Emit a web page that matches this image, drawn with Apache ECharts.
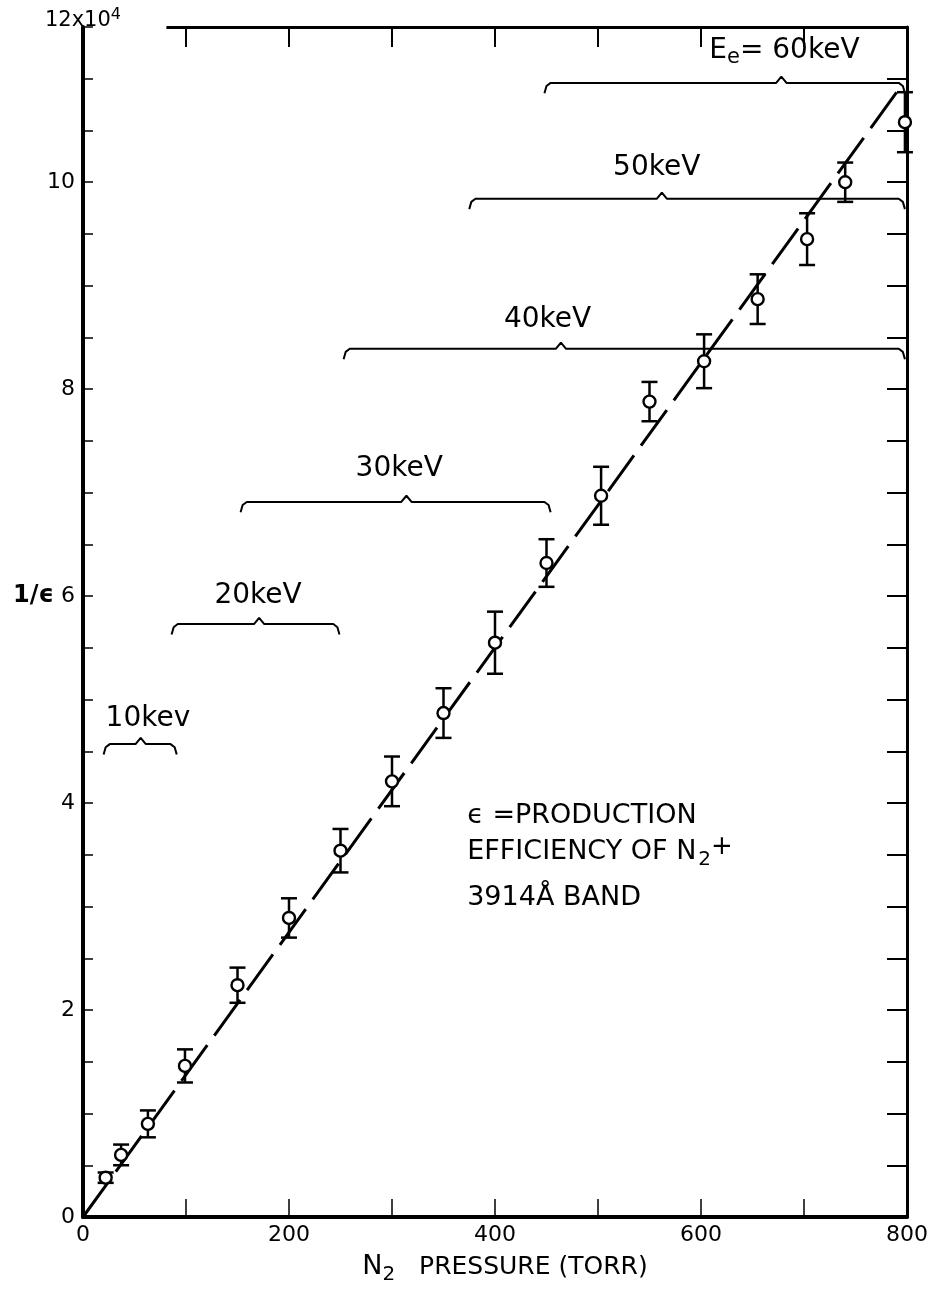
<!DOCTYPE html>
<html>
<head>
<meta charset="utf-8">
<script src="https://cdn.jsdelivr.net/npm/echarts@6/dist/echarts.min.js"></script>
<style>
  html, body { margin: 0; background: #fff; }
  #chart { width: 939px; height: 1298px; }
</style>
</head>
<body>
<div id="chart"></div>
<script>
// measured points: N2 pressure (torr) vs 1/eps (x10^4)
const pressure = [22, 37, 63, 99, 150, 200, 250, 300, 350, 400, 450, 503, 550, 603, 655, 703, 740, 798]
const invEff = [0.38, 0.6, 0.9, 1.46, 2.24, 2.89, 3.54, 4.21, 4.87, 5.55, 6.32, 6.97, 7.88, 8.27, 8.87, 9.45, 10.0, 10.58]
const invEffErr = [0.05, 0.1, 0.13, 0.16, 0.17, 0.19, 0.21, 0.24, 0.24, 0.3, 0.23, 0.28, 0.19, 0.26, 0.24, 0.25, 0.19, 0.29]

// fitted straight line
const fitX = [0, 790]
const fitY = [0, 10.87]

// energy ranges (braces)
const braceNames = ['10kev', '20keV', '30keV', '40keV', '50keV', 'E{sub|e}= 60keV']
const braceStart = [20, 86, 153, 253, 375, 448]
const braceEnd = [91, 249, 454, 798, 798, 798]
const braceMid = [56, 171, 314, 464, 562, 678]
const braceLevel = [4.57, 5.73, 6.91, 8.39, 9.84, 10.96]
const braceLabelX = [63, 170, 307, 451, 557, 681]
const braceLabelY = [4.82, 6.0, 7.23, 8.67, 10.14, 11.27]

const xTicks = [0, 200, 400, 600, 800]
const yTicks = [0, 2, 4, 6, 8, 10]

const chart = echarts.init(document.getElementById('chart'))
const font = 'DejaVu Sans'

// brace outline: curled ends, small notch in middle
function bracePath(i) {
  const a = braceStart[i], b = braceEnd[i], m = braceMid[i], y = braceLevel[i]
  return [
    [a, y - 0.1], [a + 2, y - 0.03], [a + 6, y],
    [m - 5, y], [m, y + 0.06], [m + 5, y],
    [b - 6, y], [b - 2, y - 0.03], [b, y - 0.1]
  ]
}

const braceSeries = braceNames.map((n, i) => ({
  type: 'line',
  data: bracePath(i),
  symbol: 'none',
  silent: true,
  lineStyle: { color: '#000', width: 2 },
  z: 3
}))

const option = {
  backgroundColor: '#fff',
  animation: false,
  grid: { left: 83, right: 32, top: 27, bottom: 81 },
  xAxis: [
    {
      type: 'value', min: 0, max: 800, interval: 100,
      position: 'bottom',
      name: '{n|N}{sub|2}   PRESSURE (TORR)',
      nameLocation: 'middle', nameGap: 32,
      nameTextStyle: {
        fontFamily: font, fontSize: 25, color: '#000', padding: [0, 0, 0, 20],
        rich: {
          n: { fontFamily: font, fontSize: 27, color: '#000' },
          sub: { fontFamily: font, fontSize: 20, color: '#000', padding: [16, 0, 0, 0] }
        }
      },
      axisLine: { onZero: false, lineStyle: { color: '#000', width: 4 } },
      axisTick: { inside: true, length: 18, lineStyle: { color: '#000', width: 1.5 } },
      axisLabel: {
        fontFamily: font, fontSize: 22, color: '#000', margin: 7,
        formatter: v => xTicks.includes(v) ? String(v) : ''
      },
      splitLine: { show: false }
    },
    {
      type: 'value', min: 0, max: 800, interval: 100,
      position: 'top',
      axisLine: { show: false, onZero: false },
      axisTick: { inside: true, length: 20, lineStyle: { color: '#000', width: 2 } },
      axisLabel: { show: false },
      splitLine: { show: false }
    }
  ],
  yAxis: [
    {
      type: 'value', min: 0, max: 11.5, interval: 0.5,
      position: 'left',
      name: '12x10{sup|4}',
      nameLocation: 'end', nameGap: -8,
      nameTextStyle: {
        fontFamily: font, fontSize: 21, color: '#000', align: 'center',
        rich: { sup: { fontFamily: font, fontSize: 16, color: '#000', padding: [0, 0, 12, 0] } }
      },
      axisLine: { onZero: false, lineStyle: { color: '#000', width: 4 } },
      axisTick: { inside: true, length: 10, lineStyle: { color: '#000', width: 1.5 } },
      axisLabel: {
        fontFamily: font, fontSize: 22, color: '#000', margin: 8,
        formatter: v => {
          if (!yTicks.includes(v)) return ''
          return v === 6 ? '{e|1/ϵ} 6' : String(v)
        },
        rich: { e: { fontFamily: font, fontSize: 24, fontWeight: 'bold', color: '#000' } }
      },
      splitLine: { show: false }
    },
    {
      type: 'value', min: 0, max: 11.5, interval: 0.5,
      position: 'right',
      axisLine: { show: true, onZero: false, lineStyle: { color: '#000', width: 3 } },
      axisTick: { inside: true, length: 20, lineStyle: { color: '#000', width: 2 } },
      axisLabel: { show: false },
      splitLine: { show: false }
    }
  ],
  series: [
    // top frame line (leaves room for the 12x10^4 label)
    {
      type: 'line', data: [], silent: true,
      markLine: {
        symbol: 'none', silent: true, label: { show: false },
        lineStyle: { color: '#000', width: 3, type: 'solid' },
        data: [[{ coord: [81, 11.5] }, { coord: [800, 11.5] }]]
      }
    },
    {
      name: 'fit',
      type: 'line',
      data: fitX.map((x, i) => [x, fitY[i]]),
      symbol: 'none',
      lineStyle: { color: '#000', width: 3, type: [44, 12] },
      z: 2
    },
    {
      name: 'errors',
      type: 'custom',
      data: pressure.map((x, i) => [x, invEff[i] - invEffErr[i], invEff[i] + invEffErr[i]]),
      renderItem: (params, api) => {
        const lo = api.coord([api.value(0), api.value(1)])
        const hi = api.coord([api.value(0), api.value(2)])
        const w = 8
        const st = { stroke: '#000', lineWidth: 2.5 }
        return {
          type: 'group',
          children: [
            { type: 'line', shape: { x1: lo[0], y1: lo[1], x2: hi[0], y2: hi[1] }, style: st },
            { type: 'line', shape: { x1: lo[0] - w, y1: lo[1], x2: lo[0] + w, y2: lo[1] }, style: st },
            { type: 'line', shape: { x1: hi[0] - w, y1: hi[1], x2: hi[0] + w, y2: hi[1] }, style: st }
          ]
        }
      },
      z: 4
    },
    {
      name: 'points',
      type: 'scatter',
      data: pressure.map((x, i) => [x, invEff[i]]),
      symbol: 'circle',
      symbolSize: 12,
      itemStyle: { color: '#fff', borderColor: '#000', borderWidth: 2.4, opacity: 1 },
      z: 5
    },
    ...braceSeries,
    {
      name: 'brace labels',
      type: 'scatter',
      data: braceNames.map((n, i) => ({ value: [braceLabelX[i], braceLabelY[i]], name: n })),
      symbolSize: 0,
      silent: true,
      itemStyle: { opacity: 1 },
      label: {
        show: true, position: 'inside',
        formatter: p => p.name,
        fontFamily: font, fontSize: 28, color: '#000',
        rich: { sub: { fontFamily: font, fontSize: 21, color: '#000', padding: [14, 0, 0, 0] } }
      }
    },
    {
      name: 'note',
      type: 'scatter',
      data: [{ value: [373, 4.05] }],
      symbolSize: 0,
      silent: true,
      itemStyle: { opacity: 1 },
      label: {
        show: true, position: 'right', distance: 0,
        align: 'left', verticalAlign: 'top',
        formatter: '{t|ϵ =PRODUCTION}\n{t|EFFICIENCY OF N}{sub|2}{sup|+}\n{b|3914Å BAND}',
        rich: {
          t: { fontFamily: font, fontSize: 27, color: '#000', lineHeight: 36 },
          b: { fontFamily: font, fontSize: 27, color: '#000', lineHeight: 42, verticalAlign: 'bottom' },
          sub: { fontFamily: font, fontSize: 20, color: '#000', lineHeight: 36, verticalAlign: 'bottom', padding: [0, 0, 0, 2] },
          sup: { fontFamily: font, fontSize: 26, color: '#000', lineHeight: 36, verticalAlign: 'top', padding: [0, 0, 14, 0] }
        }
      }
    }
  ]
}

chart.setOption(option)
</script>
</body>
</html>
